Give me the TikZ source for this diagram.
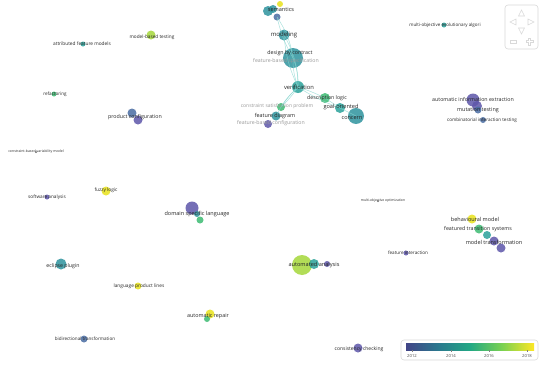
\documentclass[tikz,border=0pt]{standalone}
\usepackage{fontspec}
\setmainfont{Open Sans}
\definecolor{cPur}{HTML}{5E56AA}
\definecolor{cBlue}{HTML}{4A6DA3}
\definecolor{cTeal}{HTML}{2E939E}
\definecolor{cTeal2}{HTML}{2AA29A}
\definecolor{cGreen}{HTML}{3DBB72}
\definecolor{cLime}{HTML}{A5D83A}
\definecolor{cYel}{HTML}{E8E21C}
\definecolor{vA}{HTML}{414487}
\definecolor{vB}{HTML}{2A788E}
\definecolor{vC}{HTML}{22A884}
\definecolor{vD}{HTML}{7AD151}
\definecolor{vE}{HTML}{FDE725}
\definecolor{edgec}{HTML}{86D6CF}
\definecolor{navc}{HTML}{D9D9D9}
\pgfdeclarehorizontalshading{viridis}{100bp}{color(0bp)=(vA); color(25bp)=(vA); color(37.5bp)=(vB); color(50bp)=(vC); color(62.5bp)=(vD); color(75bp)=(vE); color(100bp)=(vE)}
\tikzset{
  bub/.style={circle, inner sep=0pt, minimum size=#1, fill opacity=0.85},
  lbl/.style={inner sep=0pt, text=black!85, font=\fontsize{#1}{#1}\selectfont},
  glbl/.style={inner sep=0pt, text=black!40, font=\fontsize{#1}{#1}\selectfont},
  lnk/.style={draw=edgec, line width=0.5pt, draw opacity=0.7},
  navshape/.style={draw=navc, line width=0.6pt},
}
\begin{document}
\begin{tikzpicture}[x=1pt, y=-1pt]
\useasboundingbox (0,0) rectangle (550,367);
\fill[white] (0,0) rectangle (550,367);
% bubbles
\node[bub=10pt, fill=cTeal] (sem1) at (268,11) {};
\node[bub=8pt, fill=cTeal] (sem2) at (273,9) {};
\node[bub=6pt, fill=cYel] (sem3) at (280,4) {};
\node[bub=7pt, fill=cBlue] (sem4) at (277,17) {};
\node[bub=11pt, fill=cTeal] (mod) at (284,35) {};
\node[bub=20pt, fill=cTeal] (dbc) at (293,58) {};
\node[bub=12pt, fill=cTeal2] (ver) at (298,87) {};
\node[bub=10pt, fill=cGreen] (dl) at (325,98) {};
\node[bub=10pt, fill=cTeal2] (go) at (340,108) {};
\node[bub=16pt, fill=cTeal] (con) at (356,116) {};
\node[bub=8pt, fill=cGreen] (csp) at (281,107) {};
\node[bub=9pt, fill=cTeal] (fd) at (276,116) {};
\node[bub=8pt, fill=cPur] (fbc) at (268,124) {};
\node[bub=9pt, fill=cLime] (mbt) at (151,35) {};
\node[bub=5pt, fill=cTeal2] (afm) at (83,44) {};
\node[bub=5pt, fill=cGreen] (ref) at (54,94) {};
\node[bub=9pt, fill=cBlue] (pc1) at (132,113) {};
\node[bub=9pt, fill=cPur] (pc2) at (138,120) {};
\node[bub=2pt, fill=black!70] (cbv) at (36,152) {};
\node[bub=9pt, fill=cYel] (fuz) at (106,191) {};
\node[bub=5pt, fill=cPur] (swa) at (47,197) {};
\node[bub=13pt, fill=cPur] (dsl1) at (192,208) {};
\node[bub=6pt, fill=cTeal] (dsl2) at (197,214) {};
\node[bub=7pt, fill=cGreen] (dsl3) at (200,220) {};
\node[bub=2pt, fill=black!70] (moo) at (378,201) {};
\node[bub=5pt, fill=cTeal2] (moea) at (444,25) {};
\node[bub=13pt, fill=cPur] (aie1) at (473,100) {};
\node[bub=10pt, fill=cPur] (aie2) at (477,106) {};
\node[bub=7pt, fill=cBlue] (mut) at (478,110) {};
\node[bub=6pt, fill=cBlue] (cit) at (483,120) {};
\node[bub=9pt, fill=cYel] (bm) at (472,219) {};
\node[bub=9pt, fill=cGreen] (fts1) at (479,229) {};
\node[bub=8pt, fill=cTeal2] (fts2) at (487,235) {};
\node[bub=9pt, fill=cPur] (mt1) at (494,241) {};
\node[bub=9pt, fill=cPur] (mt2) at (501,248) {};
\node[bub=5pt, fill=cPur] (fi) at (406,253) {};
\node[bub=11pt, fill=cTeal] (ecl) at (61,264) {};
\node[bub=7pt, fill=cYel] (lpl) at (138,286) {};
\node[bub=20pt, fill=cLime] (aa1) at (302,265) {};
\node[bub=10pt, fill=cTeal2] (aa2) at (314,264) {};
\node[bub=6pt, fill=cPur] (aa3) at (327,264) {};
\node[bub=9pt, fill=cYel] (ar1) at (210,314) {};
\node[bub=6pt, fill=cGreen] (ar2) at (207,319) {};
\node[bub=7pt, fill=cBlue] (bt) at (84,339) {};
\node[bub=9pt, fill=cPur] (cc) at (358,348) {};

% edges
\draw[lnk] (sem4.center) to[bend right=8] (dbc.center);
\draw[lnk] (sem4.center) to[bend left=12] (dbc.center);
\draw[lnk] (mod.center) to[bend right=10] (ver.center);
\draw[lnk] (mod.center) to[bend left=14] (ver.center);
\draw[lnk] (dbc.center) to[bend right=10] (ver.center);
\draw[lnk] (dbc.center) to[bend left=12] (ver.center);
\draw[lnk] (ver.center) to[bend left=6] (csp.center);
\draw[lnk] (ver.center) to[bend right=6] (csp.center);
\draw[lnk] (ver.center) to[bend right=10] (fd.center);
\draw[lnk] (ver.center) to[bend left=4] (dl.center);
\draw[lnk] (ver.center) to[bend right=6] (go.center);
\draw[lnk] (dl.center) to (go.center);
\draw[lnk] (go.center) to (con.center);

% labels
\node[lbl=5.6] (tsem) at (281,9) {semantics};
\node[lbl=6] (tmod) at (284,35) {modeling};
\node[lbl=5.3] (tdbc) at (290,53) {design by contract};
\node[glbl=5.2] (tfbs) at (286,61) {feature-based specification};
\node[lbl=5.8] (tver) at (299,87) {verification};
\node[lbl=5.2] (tdl) at (327,98) {description logic};
\node[glbl=5.0] (tcsp) at (277,106) {constraint satisfaction problem};
\node[lbl=5.6] (tgo) at (341,107) {goal-oriented};
\node[lbl=5.4] (tfd) at (275,116) {feature diagram};
\node[lbl=5.5] (tcon) at (352,118) {concern};
\node[glbl=5.2] (tfbc) at (271,123) {feature-based configuration};
\node[lbl=4.7] (tmbt) at (152,37) {model-based testing};
\node[lbl=4.8] (tafm) at (82,44) {attributed feature models};
\node[lbl=4.6] (tref) at (55,94) {refactoring};
\node[lbl=5.3] (tpc) at (135,117) {product configuration};
\node[lbl=4.5] (tmoea) at (445,25) {multi-objective evolutionary algori};
\node[lbl=5.3] (taie) at (473,99) {automatic information extraction};
\node[lbl=5.4] (tmut) at (478,110) {mutation testing};
\node[lbl=4.6] (tcit) at (482,120) {combinatorial interaction testing};
\node[lbl=3.5] (tcbv) at (36,152) {constraint-based variability model};
\node[lbl=4.8] (tfuz) at (106,190) {fuzzy logic};
\node[lbl=4.7] (tswa) at (47,197) {software analysis};
\node[lbl=5.5] (tdsl) at (197,214) {domain specific language};
\node[lbl=3.4] (tmoo) at (383,201) {multi-objective optimization};
\node[lbl=5.5] (tbm) at (475,219) {behavioural model};
\node[lbl=5.3] (tfts) at (478,229) {featured transition systems};
\node[lbl=5.5] (tmt) at (494,242) {model transformation};
\node[lbl=4.6] (tfi) at (408,253) {feature interaction};
\node[lbl=5.2] (tecl) at (63,266) {eclipse plugin};
\node[lbl=4.8] (tlpl) at (139,286) {language product lines};
\node[lbl=5.6] (taa) at (314,265) {automated analysis};
\node[lbl=5.4] (tar) at (208,316) {automatic repair};
\node[lbl=4.6] (tbt) at (85,339) {bidirectional transformation};
\node[lbl=5.0] (tcc) at (359,349) {consistency checking};

% navigation control
\draw[navshape, rounded corners=3pt] (505,5) rectangle (538,49);
\draw[navshape] (518.5,16) -- (521.5,10) -- (524.5,16) -- cycle;
\draw[navshape] (516,19) -- (510,22) -- (516,25) -- cycle;
\draw[navshape] (528,19) -- (534,22) -- (528,25) -- cycle;
\draw[navshape] (518.5,28) -- (521.5,34) -- (524.5,28) -- cycle;
\draw[navshape] (510,40.5) rectangle (516,43.5);
\draw[navshape] (528.5,38) -- (530.5,38) -- (530.5,40.5) -- (533,40.5) -- (533,42.5) -- (530.5,42.5) -- (530.5,45) -- (528.5,45) -- (528.5,42.5) -- (526,42.5) -- (526,40.5) -- (528.5,40.5) -- cycle;

% legend
\draw[navshape, rounded corners=3pt] (401,340) rectangle (538,360);
\shade[shading=viridis] (406,343) rectangle (534,350);
\foreach \xx/\yy in {412/2012, 451/2014, 489/2016, 527/2018} {
  \draw[black!50, line width=0.3pt] (\xx,350) -- (\xx,352);
  \node[inner sep=0pt, text=black!70, font=\fontsize{4.2}{4.2}\selectfont] at (\xx,355.5) {\yy};
}
\end{tikzpicture}
\end{document}
